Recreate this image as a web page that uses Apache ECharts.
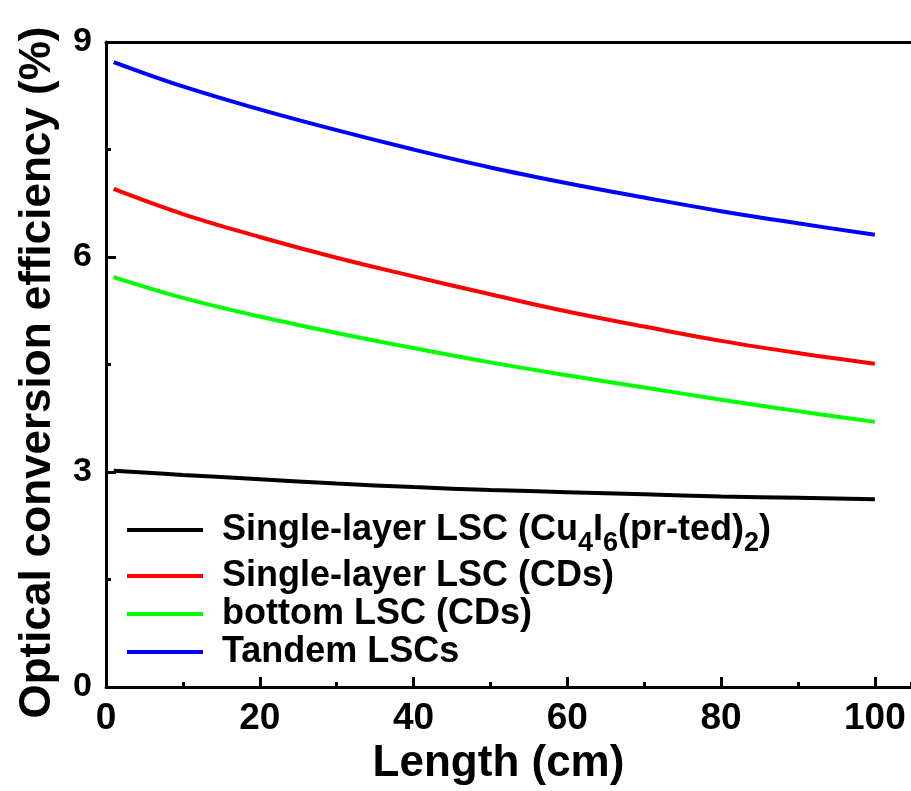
<!DOCTYPE html>
<html>
<head>
<meta charset="utf-8">
<script src="https://cdn.jsdelivr.net/npm/echarts@6/dist/echarts.min.js"></script>
<style>
  html, body { margin: 0; padding: 0; background: #fff; }
  #chart { width: 911px; height: 791px; }
</style>
</head>
<body>
<div id="chart"></div>
<script>
// Length along the concentrator (cm)
const lengths = [1, 10, 20, 30, 40, 50, 60, 70, 80, 90, 100];

// Optical conversion efficiency (%) for each device
const cuClusterSingle = [3.02, 2.96, 2.90, 2.84, 2.79, 2.75, 2.72, 2.69, 2.66, 2.64, 2.62];
const cdsSingle       = [6.95, 6.60, 6.28, 5.99, 5.73, 5.48, 5.24, 5.03, 4.83, 4.66, 4.51];
const cdsBottom       = [5.72, 5.43, 5.17, 4.94, 4.73, 4.53, 4.35, 4.18, 4.01, 3.85, 3.70];
const tandem          = [8.72, 8.38, 8.06, 7.77, 7.50, 7.25, 7.03, 6.83, 6.64, 6.47, 6.31];

const seriesNames = [
  'Single-layer LSC (Cu4I6(pr-ted)2)',
  'Single-layer LSC (CDs)',
  'bottom LSC (CDs)',
  'Tandem LSCs'
];
const seriesColors = ['#000000', '#ff0000', '#00ff00', '#0000ff'];
const seriesValues = [cuClusterSingle, cdsSingle, cdsBottom, tandem];

const xTicks = [0, 20, 40, 60, 80, 100];
const yTicks = [0, 3, 6, 9];

const X_MAX = 104.7;
const FONT = 'Arial, "Liberation Sans", Helvetica, sans-serif';

const chart = echarts.init(document.getElementById('chart'), null, { renderer: 'canvas' });

const series = seriesNames.map((name, i) => ({
  name: name,
  type: 'line',
  xAxisIndex: 0,
  yAxisIndex: 0,
  data: lengths.map((x, j) => [x, seriesValues[i][j]]),
  smooth: 0.4,
  symbol: 'none',
  lineStyle: { color: seriesColors[i], width: 4 },
  itemStyle: { color: seriesColors[i] },
  z: 3
}));

const option = {
  backgroundColor: '#ffffff',
  animation: false,
  grid: { left: 106, right: 0, top: 42, bottom: 99 },
  xAxis: [
    {
      type: 'value', min: 0, max: X_MAX, interval: 20,
      position: 'bottom',
      name: 'Length (cm)', nameLocation: 'middle', nameGap: 49,
      nameTextStyle: { fontFamily: FONT, fontWeight: 'bold', fontSize: 44, color: '#000', padding: [0, 20, 0, 0] },
      axisLine: { show: true, onZero: false, lineStyle: { color: '#000', width: 3 } },
      axisTick: { show: true, inside: true, length: 10, lineStyle: { color: '#000', width: 3 } },
      axisLabel: {
        show: true, margin: 13, fontFamily: FONT, fontWeight: 'bold', fontSize: 37, color: '#000',
        showMaxLabel: false,
        formatter: v => (xTicks.indexOf(v) >= 0 ? String(v) : '')
      },
      splitLine: { show: false }
    },
    {
      // minor ticks every 10 cm
      type: 'value', min: 0, max: X_MAX, interval: 10,
      position: 'bottom',
      axisLine: { show: false },
      axisTick: { show: true, inside: true, length: 5, lineStyle: { color: '#000', width: 3 } },
      axisLabel: { show: false },
      splitLine: { show: false }
    },
    {
      // top frame line
      type: 'value', min: 0, max: X_MAX,
      position: 'top',
      axisLine: { show: true, onZero: false, lineStyle: { color: '#000', width: 3 } },
      axisTick: { show: false },
      axisLabel: { show: false },
      splitLine: { show: false }
    }
  ],
  yAxis: {
    type: 'value', min: 0, max: 9, interval: 3,
    name: 'Optical conversion efficiency (%)', nameLocation: 'middle', nameGap: 46,
    nameRotate: 90,
    nameTextStyle: { fontFamily: FONT, fontWeight: 'bold', fontSize: 44, color: '#000', padding: [0, 16, 0, 0] },
    axisLine: { show: true, onZero: false, lineStyle: { color: '#000', width: 3 } },
    axisTick: { show: true, inside: true, length: 10, lineStyle: { color: '#000', width: 3 } },
    minorTick: { show: true, splitNumber: 2, length: 5, lineStyle: { color: '#000', width: 3 } },
    axisLabel: {
      margin: 14, fontFamily: FONT, fontWeight: 'bold', fontSize: 34, color: '#000',
      formatter: v => (yTicks.indexOf(v) >= 0 ? String(v) : '')
    },
    splitLine: { show: false }
  },
  legend: {
    orient: 'vertical',
    left: 127, top: 503,
    itemGap: 0,
    itemWidth: 76, itemHeight: 4,
    icon: 'rect',
    padding: 0,
    data: seriesNames.map((name, i) => (
      i === 0 ? { name: name, textStyle: { lineHeight: 54 } } : { name: name }
    )),
    formatter: function (name) {
      if (name === seriesNames[0]) {
        return 'Single-layer LSC (Cu{s|4}I{s|6}(pr-ted){s|2})';
      }
      return name;
    },
    textStyle: {
      fontFamily: FONT, fontWeight: 'bold', fontSize: 36, color: '#000',
      lineHeight: 38, padding: [0, 0, 0, 14],
      rich: {
        s: { fontFamily: FONT, fontWeight: 'bold', fontSize: 27, color: '#000', lineHeight: 32, verticalAlign: 'bottom' }
      }
    }
  },
  series: series
};

chart.setOption(option);
</script>
</body>
</html>
